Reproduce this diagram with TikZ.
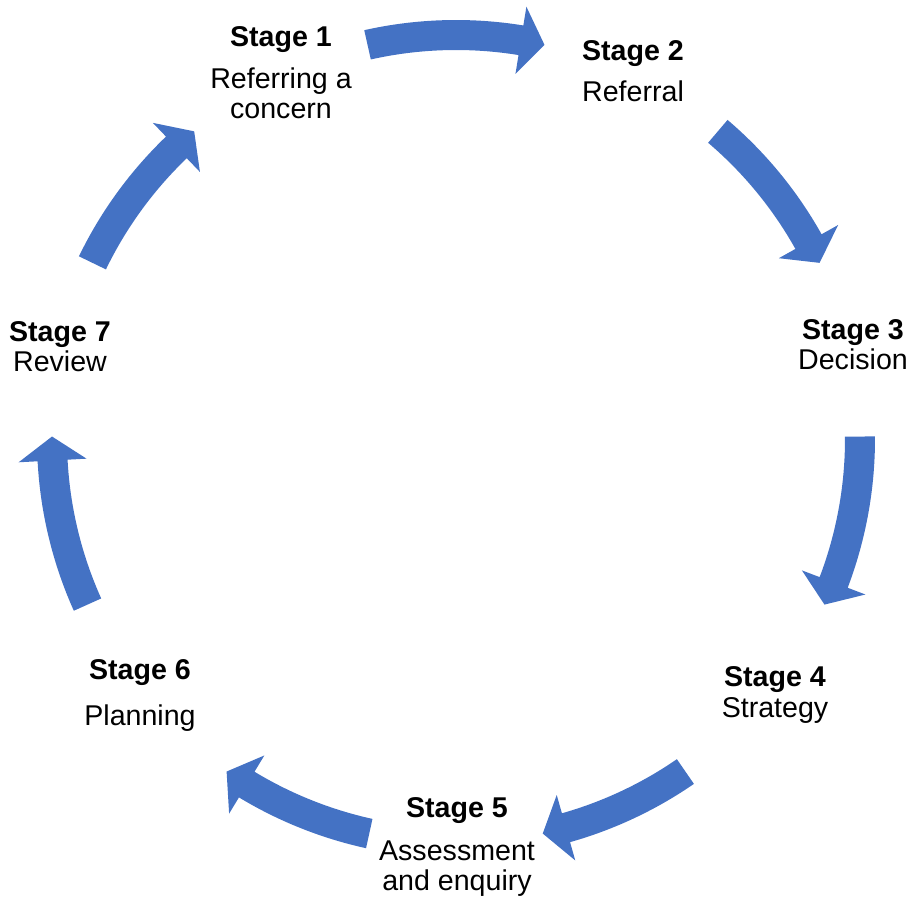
\documentclass[tikz,border=0pt]{standalone}
\usepackage{fontspec}
\setmainfont{Liberation Sans}
\definecolor{cycblue}{HTML}{4472C4}
% curved block arrow along the cycle: #1 tail angle, #2 tip angle (clockwise)
\newcommand\cycarrow[2]{%
  \pgfmathsetmacro\cychb{#2+3.4}%
  \fill[cyclearrow] ([shift={(#1:419pt)}]c)
    arc[start angle=#1, end angle=\cychb, radius=419pt]
    -- ([shift={(\cychb:438pt)}]c)
    -- ([shift={(#2:404pt)}]c)
    -- ([shift={(\cychb:370pt)}]c)
    -- ([shift={(\cychb:389pt)}]c)
    arc[start angle=\cychb, end angle=#1, radius=389pt]
    -- cycle;}
\begin{document}
\begin{tikzpicture}[x=1pt,y=1pt,
  stagelabel/.style={anchor=base, inner sep=0pt, font=\fontsize{28.6}{28}\selectfont},
  cyclearrow/.style={fill=cycblue, draw=none}]
\useasboundingbox (0,0) rectangle (910,897);
\coordinate (c) at (456,458);

% stage labels
\node[stagelabel] (s1) at (281,850) {\begin{tabular}[t]{@{}c@{}}\textbf{Stage 1}\\[12pt] Referring a\\[2pt] concern\end{tabular}};
\node[stagelabel] (s2) at (633,836) {\begin{tabular}[t]{@{}c@{}}\textbf{Stage 2}\\[11pt] Referral\end{tabular}};
\node[stagelabel] (s3) at (853,557) {\begin{tabular}[t]{@{}c@{}}\textbf{Stage 3}\\ Decision\end{tabular}};
\node[stagelabel] (s4) at (775,210) {\begin{tabular}[t]{@{}c@{}}\textbf{Stage 4}\\[2pt] Strategy\end{tabular}};
\node[stagelabel] (s5) at (457,80) {\begin{tabular}[t]{@{}c@{}}\textbf{Stage 5}\\[15pt] Assessment\\[1pt] and enquiry\end{tabular}};
\node[stagelabel] (s6) at (140,217) {\begin{tabular}[t]{@{}c@{}}\textbf{Stage 6}\\[16pt] Planning\end{tabular}};
\node[stagelabel] (s7) at (60,555) {\begin{tabular}[t]{@{}c@{}}\textbf{Stage 7}\\ Review\end{tabular}};

% cycle arrows
\cycarrow{102.65}{77.35}
\cycarrow{49.6}{25.85}
\cycarrow{0.35}{-24.2}
\cycarrow{-55.4}{-77.6}
\cycarrow{-102.4}{-124.6}
\cycarrow{204.2}{179.65}
\cycarrow{154.15}{130.4}
\end{tikzpicture}
\end{document}
